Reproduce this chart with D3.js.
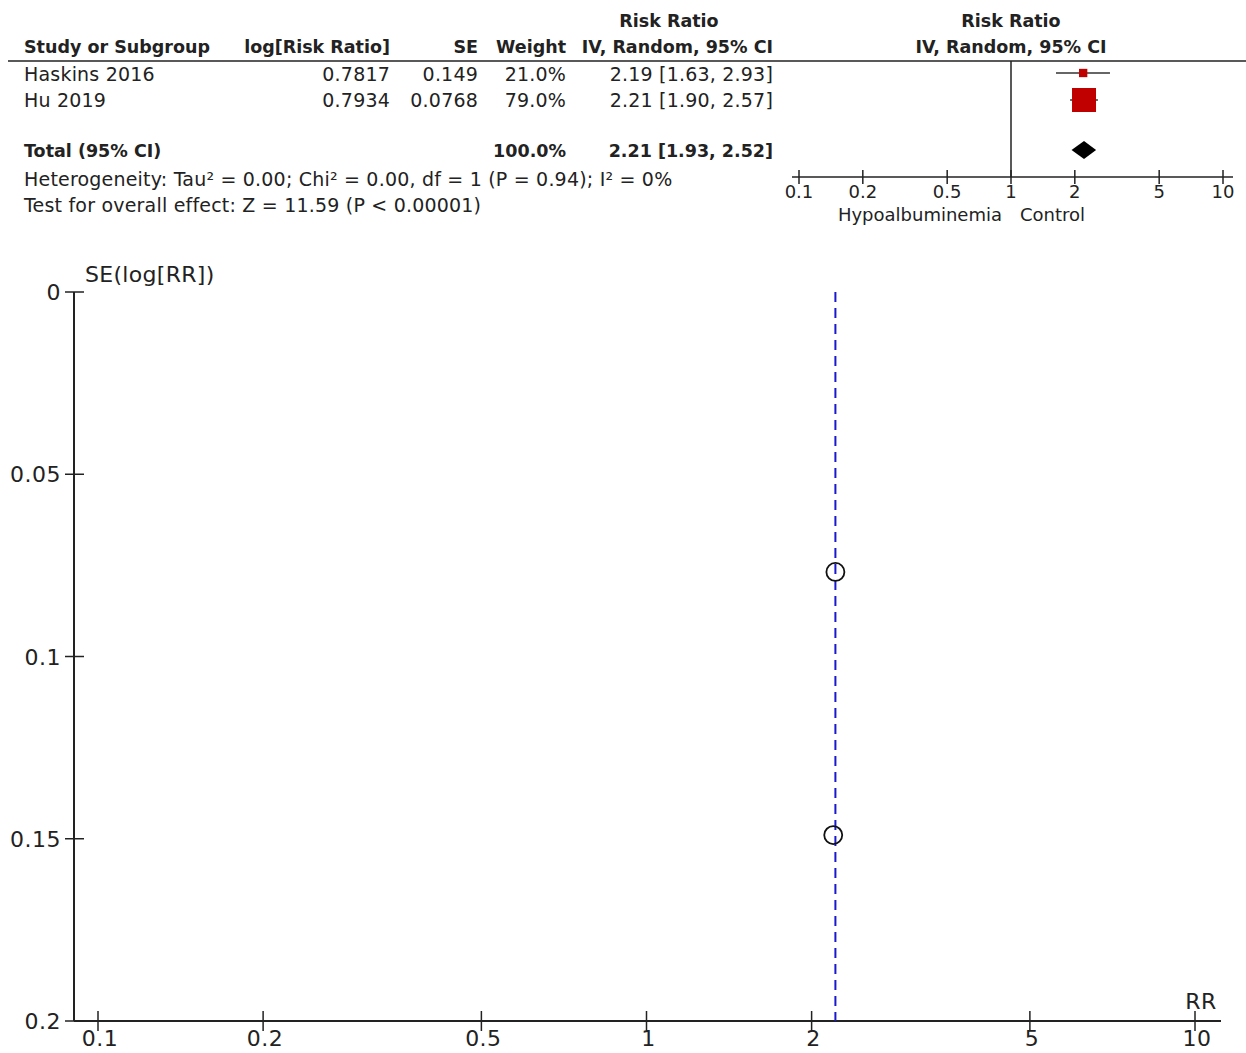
<!DOCTYPE html>
<html>
<head>
<meta charset="utf-8">
<script src="https://cdn.jsdelivr.net/npm/d3@7"></script>
<style>
  body { margin: 0; background: #fff; }
  text { font-family: "DejaVu Sans", sans-serif; fill: #222; }
</style>
</head>
<body>
<script>
// study data
let studies = ["Haskins 2016", "Hu 2019"];
let logRR = [0.7817, 0.7934];
let seVals = [0.149, 0.0768];
let weights = [21.0, 79.0];
let rrVals = [2.19, 2.21];
let ciLow = [1.63, 1.90];
let ciHigh = [2.93, 2.57];

// pooled
let totalWeight = 100.0;
let totalRR = 2.21;
let totalLow = 1.93;
let totalHigh = 2.52;

let forestTicks = [0.1, 0.2, 0.5, 1, 2, 5, 10];
let funnelXTicks = [0.1, 0.2, 0.5, 1, 2, 5, 10];
let funnelYTicks = [0, 0.05, 0.1, 0.15, 0.2];

let w = 1246;
let h = 1053;

let svg = d3.select("body")
    .append("svg")
    .attr("width", w)
    .attr("height", h);

/************** forest table **************/
let fs = 19;
let rowY = [81, 107];

let cols = [
    {x: 390, fmt: function(i) { return logRR[i].toFixed(4); }},
    {x: 478, fmt: function(i) { return String(seVals[i]); }},
    {x: 566, fmt: function(i) { return weights[i].toFixed(1) + "%"; }},
    {x: 773, fmt: function(i) { return rrVals[i].toFixed(2) + " [" + ciLow[i].toFixed(2) + ", " + ciHigh[i].toFixed(2) + "]"; }}
];

function txt(x, y, s, anchor, bold, size, ls) {
    return svg.append("text")
        .attr("x", x).attr("y", y)
        .attr("text-anchor", anchor || "start")
        .attr("font-weight", bold ? "bold" : "normal")
        .attr("font-size", (size || fs) + "px")
        .attr("letter-spacing", (ls === undefined ? (bold ? 0 : 0.2) : ls) + "px")
        .text(s);
}

// headers
txt(669, 27, "Risk Ratio", "middle", true, 17.5);
txt(1011, 27, "Risk Ratio", "middle", true, 17.5);
txt(24, 53, "Study or Subgroup", "start", true, 17.5);
txt(390, 53, "log[Risk Ratio]", "end", true, 17.5);
txt(478, 53, "SE", "end", true, 17.5);
txt(566, 53, "Weight", "end", true, 17.5);
txt(773, 53, "IV, Random, 95% CI", "end", true, 17.5);
txt(1011, 53, "IV, Random, 95% CI", "middle", true, 17.5);

svg.append("line")
    .attr("x1", 8).attr("x2", w)
    .attr("y1", 61).attr("y2", 61)
    .attr("stroke", "#222").attr("stroke-width", 1.5);

studies.forEach(function(s, i) {
    txt(24, rowY[i], s);
    cols.forEach(function(c) {
        txt(c.x, rowY[i], c.fmt(i), "end");
    });
});

txt(24, 157, "Total (95% CI)", "start", true, 17.5);
txt(566, 157, totalWeight.toFixed(1) + "%", "end", true, 17.5);
txt(773, 157, totalRR.toFixed(2) + " [" + totalLow.toFixed(2) + ", " + totalHigh.toFixed(2) + "]", "end", true, 17.5);
txt(24, 186, "Heterogeneity: Tau² = 0.00; Chi² = 0.00, df = 1 (P = 0.94); I² = 0%");
txt(24, 212, "Test for overall effect: Z = 11.59 (P < 0.00001)");

/************** forest plot **************/
let fx = d3.scaleLog()
    .domain([0.1, 10])
    .range([799, 1223]);
let axisY = 177;

svg.append("line")
    .attr("x1", fx(1)).attr("x2", fx(1))
    .attr("y1", 61).attr("y2", axisY)
    .attr("stroke", "#222").attr("stroke-width", 1.5);

// square size from weight
let sqScale = d3.scalePow().exponent(0.8)
    .domain([0, 79])
    .range([0, 24]);

let forestRowY = [73, 100];

svg.selectAll(".ci")
    .data(studies)
    .enter()
    .append("line")
    .attr("x1", function(d, i) { return fx(ciLow[i]); })
    .attr("x2", function(d, i) { return fx(ciHigh[i]); })
    .attr("y1", function(d, i) { return forestRowY[i]; })
    .attr("y2", function(d, i) { return forestRowY[i]; })
    .attr("stroke", "#333").attr("stroke-width", 1.5);

svg.selectAll(".sq")
    .data(studies)
    .enter()
    .append("rect")
    .attr("x", function(d, i) { return fx(rrVals[i]) - sqScale(weights[i]) / 2; })
    .attr("y", function(d, i) { return forestRowY[i] - sqScale(weights[i]) / 2; })
    .attr("width", function(d, i) { return sqScale(weights[i]); })
    .attr("height", function(d, i) { return sqScale(weights[i]); })
    .attr("fill", "#c00000");

// diamond
let dY = 150;
svg.append("path")
    .attr("d", "M" + fx(totalLow) + "," + dY +
        "L" + fx(totalRR) + "," + (dY - 9) +
        "L" + fx(totalHigh) + "," + dY +
        "L" + fx(totalRR) + "," + (dY + 9) + "Z")
    .attr("fill", "#000");

// forest axis
svg.append("line")
    .attr("x1", 792).attr("x2", 1233)
    .attr("y1", axisY).attr("y2", axisY)
    .attr("stroke", "#222").attr("stroke-width", 1.5);

svg.selectAll(".ftick")
    .data(forestTicks)
    .enter()
    .append("line")
    .attr("x1", function(d) { return fx(d); })
    .attr("x2", function(d) { return fx(d); })
    .attr("y1", axisY - 7).attr("y2", axisY + 7)
    .attr("stroke", "#222").attr("stroke-width", 1.5);

svg.selectAll(".flab")
    .data(forestTicks)
    .enter()
    .append("text")
    .attr("x", function(d) { return fx(d); })
    .attr("y", 198)
    .attr("text-anchor", "middle")
    .attr("font-size", "18px")
    .text(function(d) { return d; });

txt(1002, 221, "Hypoalbuminemia", "end", false, 18, 0);
txt(1020, 221, "Control", "start", false, 18, 0);

/************** funnel plot **************/
let x = d3.scaleLog()
    .domain([0.1, 10])
    .range([98, 1195]);
let y = d3.scaleLinear()
    .domain([0, 0.2])
    .range([292, 1021]);
let axX = 74;

svg.append("line")
    .attr("x1", axX).attr("x2", axX)
    .attr("y1", y(0)).attr("y2", y(0.2))
    .attr("stroke", "#222").attr("stroke-width", 2);
svg.append("line")
    .attr("x1", axX).attr("x2", 1221)
    .attr("y1", y(0.2)).attr("y2", y(0.2))
    .attr("stroke", "#222").attr("stroke-width", 2);

svg.selectAll(".ytick")
    .data(funnelYTicks)
    .enter()
    .append("line")
    .attr("x1", axX - 9).attr("x2", axX + 10)
    .attr("y1", function(d) { return y(d); })
    .attr("y2", function(d) { return y(d); })
    .attr("stroke", "#222").attr("stroke-width", 1.5);

svg.selectAll(".ylab")
    .data(funnelYTicks)
    .enter()
    .append("text")
    .attr("x", 61)
    .attr("y", function(d) { return y(d) + 8; })
    .attr("text-anchor", "end")
    .attr("font-size", "22px")
    .attr("letter-spacing", "0.5px")
    .text(function(d) { return d; });

svg.selectAll(".xtick")
    .data(funnelXTicks)
    .enter()
    .append("line")
    .attr("x1", function(d) { return x(d); })
    .attr("x2", function(d) { return x(d); })
    .attr("y1", y(0.2) - 10).attr("y2", y(0.2) + 10)
    .attr("stroke", "#222").attr("stroke-width", 1.5);

svg.selectAll(".xlab")
    .data(funnelXTicks)
    .enter()
    .append("text")
    .attr("x", function(d) { return x(d) + 2; })
    .attr("y", 1046)
    .attr("text-anchor", "middle")
    .attr("font-size", "22px")
    .attr("letter-spacing", "0.5px")
    .text(function(d) { return d; });

txt(85, 282, "SE(log[RR])", "start", false, 22, 0.3);
txt(1201, 1009, "RR", "middle", false, 22, 0.5);

// pooled estimate line
svg.append("line")
    .attr("x1", x(totalRR)).attr("x2", x(totalRR))
    .attr("y1", y(0)).attr("y2", y(0.2))
    .attr("stroke", "#1a1acc")
    .attr("stroke-width", 2)
    .attr("stroke-dasharray", "10,6");

svg.selectAll("circle")
    .data(studies)
    .enter()
    .append("circle")
    .attr("cx", function(d, i) { return x(rrVals[i]); })
    .attr("cy", function(d, i) { return y(seVals[i]); })
    .attr("r", 9)
    .attr("fill", "none")
    .attr("stroke", "#111")
    .attr("stroke-width", 1.8);
</script>
</body>
</html>
